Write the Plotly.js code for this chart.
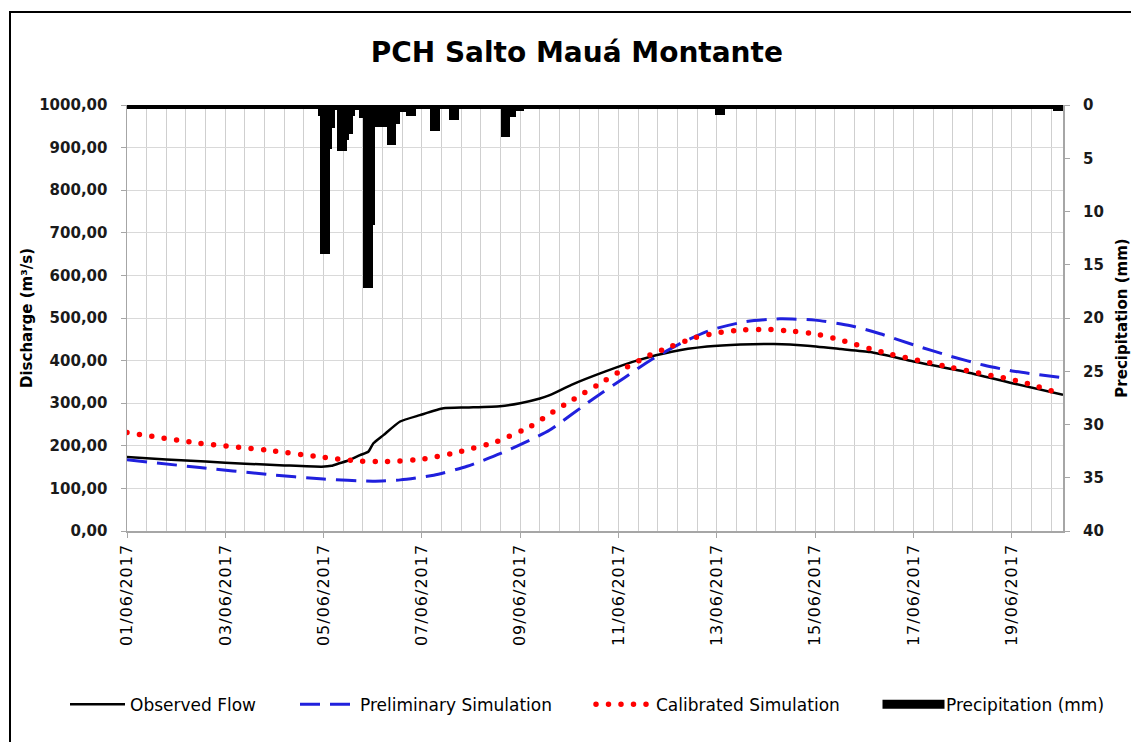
<!DOCTYPE html>
<html><head><meta charset="utf-8">
<script src="https://cdn.plot.ly/plotly-3.0.1.min.js"></script>
<style>
html,body{margin:0;padding:0;overflow:hidden;background:#fff;}
#chart{width:1131px;height:742px;}
#frame{position:absolute;left:9px;top:10.5px;width:1200px;height:800px;border:2.5px solid #000;pointer-events:none;}
path.js-line[style*="255, 0, 0"]{stroke-linecap:round;}
.xtick text{letter-spacing:1px;}
</style></head><body>
<div id="chart"></div><div id="frame"></div>
<script>
// ---- data (hours since 01/06/2017 00:00) ----
const obsHours = [0,20,40,60,80,99,104,108,113,118.5,122.7,125.3,130.4,138.9,149,160.9,172.8,189.7,199.9,210,215,226,243,260,277,295,312,329,346,363,378,400,426,452,476];
const obsFlow  = [174,168,163,158,154,151,153,159,166,178,186,206,225,257,272,288,290,293,300,311,319,343,374,401,421,433,438,439,435,427,420,398,374,345,320];

const preHours = [0,37,71,100,125,139,156,173,190,207,215,237,253,267,283,297,314,332,350,368,383,400,419,436,451,476];
const preFlow  = [167,149,133,122,117,120,131,152,182,218,237,310,360,403,444,472,491,498,495,482,463,437,410,389,375,360];

const calHours = [0,37,71,100,118,132,151,169,188,205,215,227,243,254,265,277,289,301,314,326,339,351,363,384,419,455,476];
const calFlow  = [231,206,190,173,164,163,169,186,210,245,275,309,353,384,411,434,454,466,472,473,469,462,448,420,384,350,320];

const precipHour = [97,98,99,100,101,102,103,104,105,106,107,108,109,110,111,112,113,114,115,116,117,118,119,120,121,122,123,124,125,126,127,128,129,130,131,132,133,134,135,136,137,138,139,140,141,142,143,144,145,146,147,148,149,150,151,152,153,154,155,156,157,158,164,165,166,167,168,190,191,192,193,194,195,196,197,198,199,200,201,299,300,301,302,303,471,472,473,474,475];
const precipMm   = [1.0,14,14,14,14,14,4.1,2.2,2.2,0.5,4.3,4.3,4.3,4.3,4.3,3.3,2.7,2.7,1.0,0.5,0.5,1.2,1.2,17.2,17.2,17.2,17.2,17.2,11.3,2.1,2.1,2.1,2.1,2.1,2.1,3.8,3.8,3.8,3.8,3.8,1.8,1.8,0.7,0.7,0.7,1.0,1.0,1.0,1.0,1.0,0.4,0.4,0.4,0.4,0.4,0.4,0.4,2.4,2.4,2.4,2.4,2.4,1.4,1.4,1.4,1.4,1.4,3.0,3.0,3.0,3.0,3.0,1.1,1.1,1.1,0.6,0.6,0.6,0.6,0.9,0.9,0.9,0.9,0.9,0.6,0.6,0.6,0.6,0.6];

const seriesNames = ['Observed Flow','Preliminary Simulation','Calibrated Simulation','Precipitation (mm)'];
const chartTitle = 'PCH Salto Mauá Montante';
const leftTitle = 'Discharge (m³/s)';
const rightTitle = 'Precipitation (mm)';

// ---- helpers ----
const START = Date.UTC(2017,5,1);
const HOUR = 3600000;
const LAST_HOUR = 476;
function hToDate(h){ return new Date(START + h*HOUR).toISOString().slice(0,19).replace('T',' '); }

const FONT = 'DejaVu Sans';

const traces = [
  {type:'scatter', mode:'lines', name:seriesNames[0], x:obsHours.map(hToDate), y:obsFlow, legend:'legend',
   line:{color:'#000000', width:2.5, shape:'spline', smoothing:0.5}, xaxis:'x', yaxis:'y'},
  {type:'scatter', mode:'lines', name:seriesNames[1], x:preHours.map(hToDate), y:preFlow, legend:'legend2',
   line:{color:'#2020dd', width:3, dash:'20px,10px', shape:'spline', smoothing:0.6}, xaxis:'x', yaxis:'y'},
  {type:'scatter', mode:'lines', name:seriesNames[2], x:calHours.map(hToDate), y:calFlow, legend:'legend3',
   line:{color:'#ff0000', width:5.5, dash:'0px,12.5px', shape:'spline', smoothing:0.6}, xaxis:'x', yaxis:'y'},
  {type:'bar', name:seriesNames[3], x:precipHour.map(hToDate), y:precipMm, legend:'legend4',
   width:HOUR, offset:0, marker:{color:'#000000', line:{width:0}}, xaxis:'x', yaxis:'y2'}
];

function legendAt(xpx){
  return {orientation:'h', x:(xpx-127)/936, xanchor:'left', y:-0.408, yanchor:'middle', itemwidth:55,
          font:{family:FONT, size:17, color:'#000'}, bgcolor:'rgba(0,0,0,0)'};
}

const layout = {
  width:1131, height:742,
  margin:{l:127, r:68, t:105, b:211, pad:0},
  paper_bgcolor:'#ffffff', plot_bgcolor:'#ffffff',
  separators:',.',
  font:{family:FONT, color:'#000'},
  showlegend:true,
  hovermode:false,
  bargap:0,
  title:{text:chartTitle, font:{family:FONT, size:28, weight:'bold', color:'#000'},
         xref:'container', x:0.51, xanchor:'center', yref:'container', y:0.93, yanchor:'middle'},
  xaxis:{type:'date', range:[hToDate(0), hToDate(LAST_HOUR)], tick0:hToDate(0), dtick:50*HOUR,
         tickformat:'%d/%m/%Y', tickangle:-90, ticks:'outside', ticklen:5, tickcolor:'#a6a6a6',
         showline:true, linecolor:'#a6a6a6', linewidth:1.5, showgrid:true, gridcolor:'#cfcfcf', gridwidth:1,
         minor:{dtick:10*HOUR, tick0:hToDate(0), showgrid:true, gridcolor:'#cfcfcf', gridwidth:1},
         tickfont:{family:FONT, size:16, color:'#000'}, zeroline:false, fixedrange:true},
  yaxis:{range:[0,1000], dtick:100, tickformat:'.2f', ticks:'outside', ticklen:5, tickcolor:'#a6a6a6',
         showline:true, linecolor:'#a6a6a6', linewidth:1.5, showgrid:true, gridcolor:'#d9d9d9', zeroline:false,
         ticklabelstandoff:10,
         tickfont:{family:FONT, size:15, weight:'bold', color:'#1a1a1a'},
         title:{text:leftTitle, font:{family:FONT, size:15, weight:'bold', color:'#000'}, standoff:3}},
  yaxis2:{overlaying:'y', side:'right', range:[40,0], dtick:5, ticks:'outside', ticklen:5, tickcolor:'#a6a6a6',
          showline:true, linecolor:'#a6a6a6', linewidth:2, showgrid:false, zeroline:false,
          ticklabelstandoff:10,
          tickfont:{family:FONT, size:15, weight:'bold', color:'#1a1a1a'},
          title:{text:rightTitle, font:{family:FONT, size:15, weight:'bold', color:'#000'}, standoff:14}},
  legend:legendAt(65),
  legend2:legendAt(295),
  legend3:legendAt(591),
  legend4:legendAt(881),
  shapes:[{type:'line', xref:'paper', yref:'paper', x0:0, x1:1, y0:1-2/426, y1:1-2/426,
           line:{color:'#000', width:4}, layer:'above'}]
};

Plotly.newPlot('chart', traces, layout, {staticPlot:true, displayModeBar:false}).then(function(gd){
  const items = gd.querySelectorAll('g.traces');
  items.forEach(function(it){
    const t = it.querySelector('text');
    if(t && t.textContent === seriesNames[3]){
      const paths = it.querySelectorAll('.legendpoints path');
      paths.forEach(function(p){ p.setAttribute('d','M-31,4.5H31V-4.5H-31Z'); });
    }
  });
});
</script></body></html>
